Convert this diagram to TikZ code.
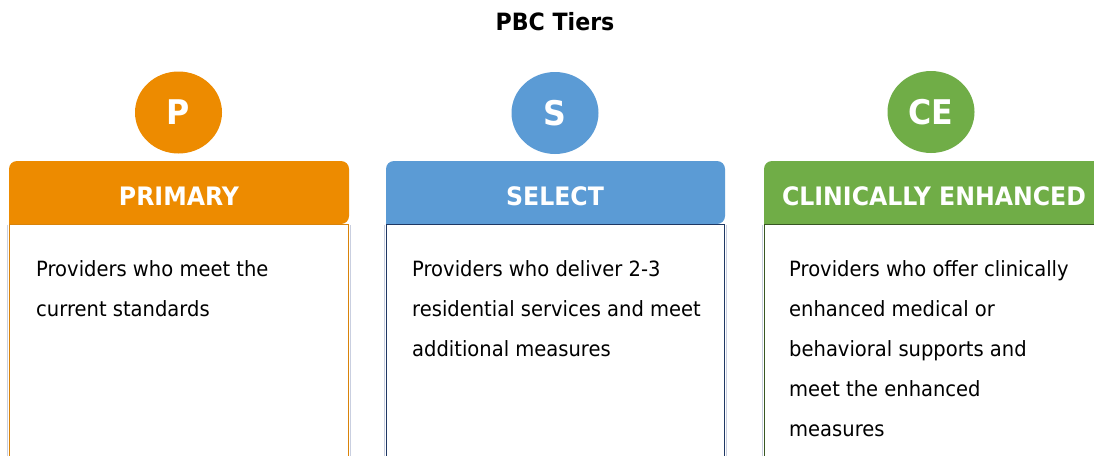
\documentclass[tikz,border=0pt]{standalone}
\usepackage{fontspec}
\usetikzlibrary{shapes.geometric}
\setmainfont[FakeStretch=0.93]{DejaVu Sans}
\definecolor{cP}{HTML}{ED8B00}
\definecolor{cS}{HTML}{5B9BD5}
\definecolor{cC}{HTML}{70AD47}
\definecolor{bP}{HTML}{D9830A}
\definecolor{bS}{HTML}{1F3864}
\definecolor{bC}{HTML}{385723}
\definecolor{shadowc}{HTML}{C9CFE0}
\tikzset{
  badge/.style={ellipse, fill=#1, draw=none, minimum width=87pt, minimum height=82pt, inner sep=0pt, text=white, font=\fontsize{34}{40}\selectfont\bfseries},
  headtext/.style={text=white, font=\fontsize{25.4}{28}\selectfont\bfseries, inner sep=0pt},
  bodytext/.style={text=black, font=\fontsize{21}{40}\selectfont, align=left, inner sep=0pt, anchor=base west},
}
\begin{document}
\begin{tikzpicture}[x=1pt,y=-1pt]
\useasboundingbox (0,0) rectangle (1094,455);
\fill[white] (0,0) rectangle (1094,455);
\node[font=\fontsize{23.8}{26}\selectfont\bfseries, inner sep=0pt] (title) at (555,22) {PBC Tiers};
% boxes
\foreach \xl/\xr/\c/\b/\n in {9/349/cP/bP/1, 386/725/cS/bS/2, 764/1104/cC/bC/3}{
  \draw[shadowc, line width=1.5pt] (\xl-1.5,225) -- (\xl-1.5,460);
  \draw[shadowc, line width=1.5pt] (\xr+1.5,225) -- (\xr+1.5,460);
  \fill[\c, rounded corners=8pt] (\xl,224) -- (\xl,161) -- (\xr,161) -- (\xr,224) [sharp corners] -- cycle;
  \draw[\b, line width=1.3pt] (\xl+0.5,460) -- (\xl+0.5,224.5) -- (\xr-0.5,224.5) -- (\xr-0.5,460);
}
\node[badge=cP] (p) at (178.5,112.5) {P};
\node[badge=cS] (s) at (555,113) {S};
\node[badge=cC] (ce) at (931,112) {CE};
\node[headtext] (hp) at (179,196) {PRIMARY};
\node[headtext] (hs) at (555,196) {SELECT};
\node[headtext] (hc) at (934,196) {CLINICALLY ENHANCED};
\node[bodytext] (tp) at (36,316) {Providers who meet the\\current standards};
\node[bodytext] (ts) at (412,356) {Providers who deliver 2-3\\residential services and meet\\additional measures};
\node[bodytext] (tc) at (789,436) {Providers who offer clinically\\enhanced medical or\\behavioral supports and\\meet the enhanced\\measures};
\end{tikzpicture}
\end{document}
